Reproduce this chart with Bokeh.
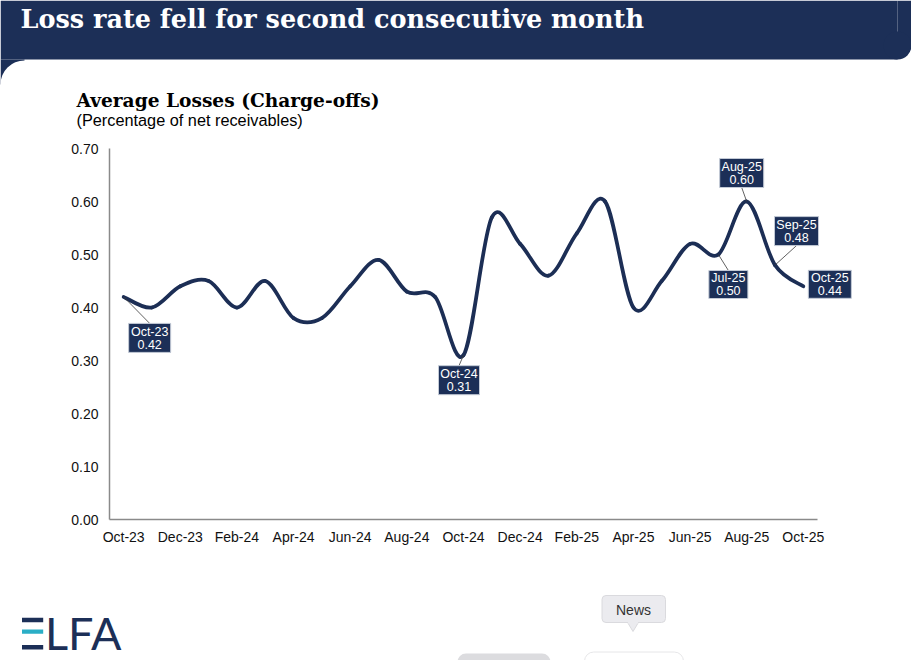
import numpy as np
from bokeh.plotting import figure
from bokeh.models import Range1d, FixedTicker, NumeralTickFormatter, LinearAxis
from bokeh.layouts import column
from bokeh.core.properties import value
from bokeh.embed import file_html
from bokeh.resources import INLINE

# ---------------- data ----------------
months = ["Oct-23", "Nov-23", "Dec-23", "Jan-24", "Feb-24", "Mar-24", "Apr-24",
          "May-24", "Jun-24", "Jul-24", "Aug-24", "Sep-24", "Oct-24", "Nov-24",
          "Dec-24", "Jan-25", "Feb-25", "Mar-25", "Apr-25", "May-25", "Jun-25",
          "Jul-25", "Aug-25", "Sep-25", "Oct-25"]
loss_rate = [0.42, 0.40, 0.44, 0.45, 0.40, 0.45, 0.38, 0.38, 0.44, 0.49, 0.43,
             0.42, 0.31, 0.57, 0.52, 0.46, 0.54, 0.60, 0.40, 0.45, 0.52, 0.50,
             0.60, 0.48, 0.44]
x_tick_months = ["Oct-23", "Dec-23", "Feb-24", "Apr-24", "Jun-24", "Aug-24",
                 "Oct-24", "Dec-24", "Feb-25", "Apr-25", "Jun-25", "Aug-25", "Oct-25"]
y_ticks = [0.0, 0.1, 0.2, 0.3, 0.4, 0.5, 0.6, 0.7]
callout_months = ["Oct-23", "Oct-24", "Jul-25", "Aug-25", "Sep-25", "Oct-25"]

# ---------------- styles / layout ----------------
NAVY = "#1c2f57"
LINE = "#1c2e55"
TEAL = "#2aaec6"
W = 911
SANS = "Liberation Sans"
SERIF = "DejaVu Serif"

# callout box offsets from their point (screen px, +dy = down) and box sizes
callout_dx = [26, -4.5, 10, -5, 21.5, 26.5]
callout_dy = [41, 25, 30, -28.5, -34, -2]
callout_w = [42, 41, 39, 44, 44, 43]
callout_h = [29, 29, 28, 29, 29, 28]
callout_leader = [True, True, True, True, True, False]


def blank(h):
    p = figure(width=W, height=h, x_range=Range1d(0, W), y_range=Range1d(h, 0),
               output_backend="svg", toolbar_location=None,
               x_axis_location=None, y_axis_location=None, min_border=0)
    p.grid.visible = False
    p.outline_line_color = None
    p.background_fill_color = "white"
    p.border_fill_color = "white"
    p.frame_align = False
    return p


# ---------------- header ----------------
hdr = blank(140)
hdr.quad(left=[0, 897, 0], right=[897, W, 24], top=[0, 0, 59], bottom=[59, 45, 84],
         fill_color=NAVY, line_color=None)
hdr.circle(x=897, y=45, radius=14, fill_color=NAVY, line_color=None)
hdr.circle(x=24, y=84, radius=24, fill_color="white", line_color=None)
hdr.text(x=[20], y=[18.5], text=["Loss rate fell for second consecutive month"],
         text_font=value(SERIF), text_font_style="bold", text_font_size="25.5px",
         text_color="white", text_baseline="alphabetic")
hdr.text(x=[76], y=[100], text=["Average Losses (Charge-offs)"],
         text_font=value(SERIF), text_font_style="bold", text_font_size="18.6px",
         text_color="#000000", text_baseline="alphabetic")
hdr.text(x=[76], y=[119.5], text=["(Percentage of net receivables)"],
         text_font=value(SANS), text_font_size="16.3px",
         text_color="#000000", text_baseline="alphabetic")

# ---------------- main chart ----------------
n = len(months)
PX_PER_X = 708 / n          # px per category
PX_PER_Y = 371 / 0.70       # px per unit value
ML, MR, MT, MB = 109, 51, 8, 41
x_end = -0.5 + (W - ML - MR) / PX_PER_X

p = figure(width=W, height=420, x_range=Range1d(-0.5, x_end), y_range=Range1d(0, 0.70),
           output_backend="svg", toolbar_location=None,
           x_axis_location=None, y_axis_location=None,
           min_border_left=ML, min_border_right=MR, min_border_top=MT, min_border_bottom=MB)
p.grid.visible = False
p.outline_line_color = None
p.background_fill_color = "white"
p.border_fill_color = "white"
p.frame_align = False

idx = {m: i for i, m in enumerate(months)}
tick_idx = [idx[m] for m in x_tick_months]

xa = LinearAxis(ticker=FixedTicker(ticks=tick_idx),
                major_label_overrides={i: months[i] for i in tick_idx},
                bounds=(-0.5, n - 0.5))
ya = LinearAxis(ticker=FixedTicker(ticks=y_ticks),
                formatter=NumeralTickFormatter(format="0.00"), bounds=(0, 0.70))
for ax, so in ((xa, 9), (ya, 11)):
    ax.axis_line_color = "#8a8a8a"
    ax.axis_line_width = 1.5
    ax.major_tick_line_color = None
    ax.minor_tick_line_color = None
    ax.major_tick_out = 0
    ax.major_tick_in = 0
    ax.major_label_standoff = so
    ax.major_label_text_font = SANS
    ax.major_label_text_font_size = "14px"
    ax.major_label_text_color = "#111111"
p.add_layout(ya, "left")
p.add_layout(xa, "below")

# smooth line (Catmull-Rom style Bezier through the data points)
xs = np.arange(n, dtype=float)
ys = np.array(loss_rate, dtype=float)
x0, y0, x1, y1, cx0, cy0, cx1, cy1 = ([] for _ in range(8))
for i in range(n - 1):
    pi, ni = max(i - 1, 0), min(i + 2, n - 1)
    x0.append(xs[i]); y0.append(ys[i]); x1.append(xs[i + 1]); y1.append(ys[i + 1])
    cx0.append(xs[i] + (xs[i + 1] - xs[pi]) / 6); cy0.append(ys[i] + (ys[i + 1] - ys[pi]) / 6)
    cx1.append(xs[i + 1] - (xs[ni] - xs[i]) / 6); cy1.append(ys[i + 1] - (ys[ni] - ys[i]) / 6)
p.bezier(x0=x0, y0=y0, x1=x1, y1=y1, cx0=cx0, cy0=cy0, cx1=cx1, cy1=cy1,
         line_color=LINE, line_width=3.75, line_cap="round")

# callouts
cx, cy, lx0, ly0, lx1, ly1, t1, t2, t1y, t2y = ([] for _ in range(10))
for k, m in enumerate(callout_months):
    i = idx[m]
    v = loss_rate[i]
    bx = i + callout_dx[k] / PX_PER_X
    by = v - callout_dy[k] / PX_PER_Y
    cx.append(bx); cy.append(by)
    t1.append(m); t2.append(f"{v:.2f}")
    t1y.append(by + 6.3 / PX_PER_Y); t2y.append(by - 6.3 / PX_PER_Y)
    if callout_leader[k]:
        half = callout_h[k] / 2 / PX_PER_Y
        lx0.append(i); ly0.append(v)
        lx1.append(bx); ly1.append(by + half if callout_dy[k] > 0 else by - half)
p.segment(x0=lx0, y0=ly0, x1=lx1, y1=ly1, line_color="#3a3a3a", line_width=0.8)
p.rect(x=cx, y=cy, width=callout_w, height=callout_h, width_units="screen",
       height_units="screen", fill_color=NAVY, line_color="#c3cad6", line_width=1)
p.text(x=cx, y=t1y, text=t1, text_font=value(SANS), text_font_size="12.5px",
       text_color="white", text_align="center", text_baseline="middle")
p.text(x=cx, y=t2y, text=t2, text_font=value(SANS), text_font_size="12.5px",
       text_color="white", text_align="center", text_baseline="middle")

# ---------------- footer ----------------
ftr = blank(100)
ftr.quad(left=[21.5, 21.5, 21.5], right=[42.7, 42.7, 42.7], top=[57.3, 69, 84.5],
         bottom=[61.7, 73.3, 89], fill_color=[NAVY, TEAL, NAVY], line_color=None)
ftr.text(x=[44.5], y=[72], text=["LFA"], text_font=value("Lato"),
         text_font_size="45px", text_color=NAVY, text_baseline="alphabetic")
ftr.patch(x=[626.5, 638.5, 632.5], y=[61, 61, 71], fill_color="#ebebef",
          line_color="#dadade", line_width=1)
ftr.quad(left=601.5, right=665, top=35, bottom=62, fill_color="#ebebef",
         line_color="#dadade", line_width=1, border_radius=4)
ftr.quad(left=627.5, right=637.5, top=60, bottom=63, fill_color="#ebebef", line_color=None)
ftr.text(x=[633], y=[49], text=["News"], text_font=value(SANS), text_font_size="14px",
         text_color="#333333", text_align="center", text_baseline="middle")
ftr.quad(left=457, right=550, top=93, bottom=110, fill_color="#dcdcdf",
         line_color=None, border_radius=12)
ftr.quad(left=584, right=683, top=91.5, bottom=110, fill_color="white",
         line_color="#e6e6e8", line_width=1, border_radius=12)

layout = column(hdr, p, ftr, spacing=0)
open("out.html", "w").write(file_html(layout, INLINE))
